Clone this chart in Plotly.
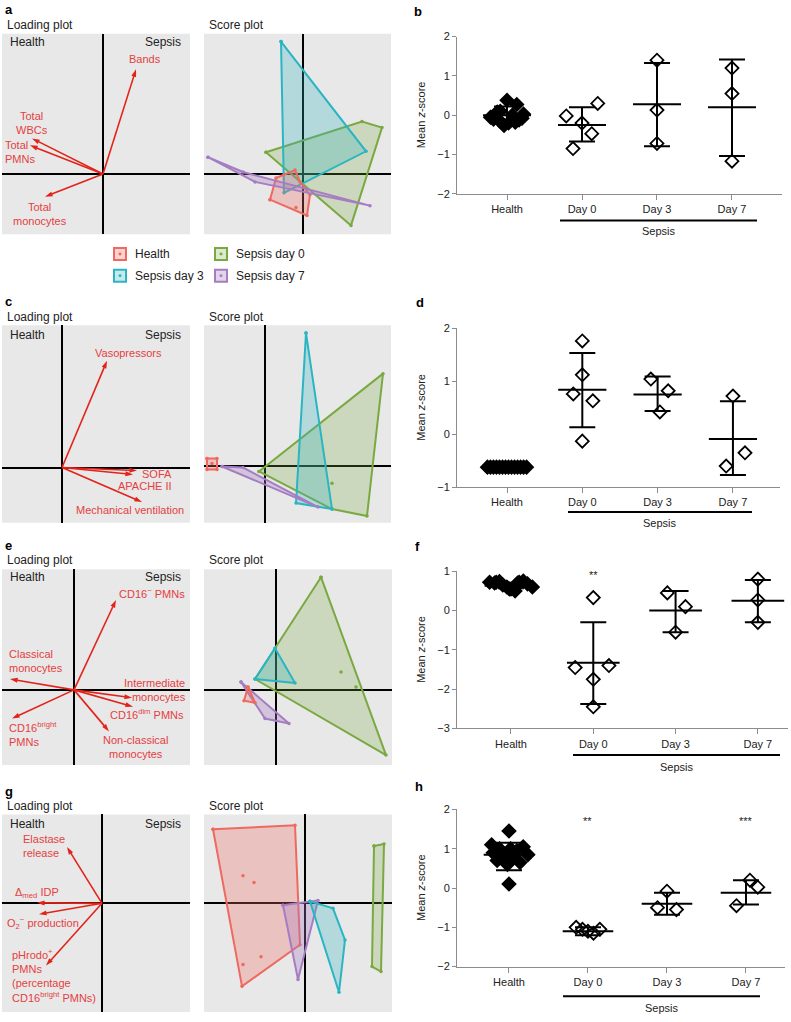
import plotly.graph_objects as go

W, H = 791, 1022
FONT = "Liberation Sans, Arial, Helvetica, sans-serif"
RED_TXT = "#E5403F"
RED_ARW = "#E2231A"
GREY_BOX = "#E8E8E8"
AXC = "#8C8C8C"

# ======================= DATA =======================
categories = ["Health", "Day 0", "Day 3", "Day 7"]
legend_names = ["Health", "Sepsis day 0", "Sepsis day 3", "Sepsis day 7"]

# ---- panel a : loadings ----
a_load_labels = ["Bands", "Total<br>WBCs", "Total<br>PMNs", "Total<br>monocytes"]
a_load_pc1 = [0.33, -0.71, -0.73, -0.58]
a_load_pc2 = [1.06, 0.36, 0.29, -0.23]
# ---- panel a : score hulls ----
a_day0_pc1 = [-0.37, 0.59, 0.79, 0.48]
a_day0_pc2 = [0.22, 0.53, 0.47, -0.52]
a_day3_pc1 = [-0.22, 0.63, -0.19]
a_day3_pc2 = [1.34, 0.23, -0.19]
a_day7_pc1 = [-0.95, -0.60, 0.67, -0.48]
a_day7_pc2 = [0.17, 0.02, -0.32, -0.08]
a_health_pc1 = [-0.33, -0.27, -0.08, -0.03, 0.07, 0.04]
a_health_pc2 = [-0.26, -0.04, 0.04, -0.08, -0.21, -0.42]
a_health_in_pc1 = [-0.07]
a_health_in_pc2 = [-0.34]

# ---- panel b : mean z-scores ----
b_health = [0.38, 0.27, 0.08, 0.03, -0.05, -0.10, -0.16, -0.20, -0.26, -0.18, -0.08, 0.00, -0.12, 0.10]
b_health_dx = [0.00, 0.13, -0.13, 0.22, -0.22, -0.18, -0.09, 0.02, -0.04, 0.11, 0.20, 0.07, 0.16, -0.09]
b_day0 = [-0.02, -0.20, -0.47, -0.85, 0.30]
b_day0_dx = [-0.21, 0.00, 0.13, -0.12, 0.21]
b_day3 = [1.40, 0.13, -0.72]
b_day3_dx = [0.0, 0.0, 0.0]
b_day7 = [1.20, 0.55, -1.17]
b_day7_dx = [0.0, 0.0, 0.0]
b_mean = [0.00, -0.25, 0.28, 0.20]
b_sd_hi = [0.22, 0.20, 1.33, 1.42]
b_sd_lo = [-0.22, -0.67, -0.79, -1.04]
b_stars = ["", "", "", ""]

# ---- panel c : loadings ----
c_load_pc1 = [0.45, 0.75, 0.71, 0.80]
c_load_pc2 = [1.08, -0.03, -0.07, -0.35]
c_load_labels = ["Vasopressors", "SOFA", "APACHE II", "Mechanical ventilation"]
# ---- panel c : score hulls ----
c_day0_pc1 = [-0.06, 1.18, 1.02, 0.67]
c_day0_pc2 = [-0.06, 0.93, -0.51, -0.44]
c_day0_in_pc1 = [0.67]
c_day0_in_pc2 = [-0.18]
c_day3_pc1 = [0.41, 0.31, 0.67]
c_day3_pc2 = [1.34, -0.38, -0.44]
c_day7_pc1 = [-0.43, -0.22, 0.53]
c_day7_pc2 = [-0.01, -0.02, -0.42]
c_health_pc1 = [-0.58, -0.48, -0.48, -0.58]
c_health_pc2 = [0.07, 0.07, -0.04, -0.04]
c_health_in_pc1 = [-0.53]
c_health_in_pc2 = [0.02]

# ---- panel d ----
d_health = [-0.62] * 14
d_health_dx = [-0.26, -0.22, -0.18, -0.14, -0.10, -0.06, -0.02, 0.02, 0.06, 0.10, 0.14, 0.18, 0.22, 0.26]
d_day0 = [1.76, 1.12, 0.76, 0.63, -0.13]
d_day0_dx = [0.0, 0.0, -0.12, 0.14, 0.0]
d_day3 = [1.04, 0.82, 0.42]
d_day3_dx = [-0.09, 0.14, 0.03]
d_day7 = [0.72, -0.35, -0.60]
d_day7_dx = [0.0, 0.16, -0.09]
d_mean = [-0.62, 0.84, 0.75, -0.09]
d_sd_hi = [-0.60, 1.53, 1.09, 0.62]
d_sd_lo = [-0.64, 0.13, 0.44, -0.77]
d_stars = ["", "**", "", ""]

# ---- panel e : loadings ----
e_load_pc1 = [0.42, -0.64, 0.58, 0.59, -0.62, 0.35]
e_load_pc2 = [0.91, 0.11, -0.08, -0.17, -0.29, -0.42]
# ---- panel e : score hulls ----
e_day0_pc1 = [0.45, -0.21, 1.10]
e_day0_pc2 = [1.14, 0.11, -0.66]
e_day0_in_pc1 = [0.65, 0.80]
e_day0_in_pc2 = [0.18, 0.03]
e_day3_pc1 = [-0.01, -0.21, 0.19]
e_day3_pc2 = [0.42, 0.11, 0.07]
e_day7_pc1 = [-0.35, 0.13, -0.11]
e_day7_pc2 = [0.08, -0.34, -0.29]
e_health_pc1 = [-0.28, -0.32, -0.21]
e_health_pc2 = [0.03, -0.11, -0.13]

# ---- panel f ----
f_health = [0.72, 0.70, 0.74, 0.65, 0.60, 0.55, 0.50, 0.72, 0.75, 0.68, 0.60, 0.55, 0.70, 0.72]
f_health_dx = [-0.26, -0.20, -0.14, -0.10, -0.05, 0.00, 0.05, 0.10, 0.15, 0.20, 0.26, -0.02, 0.08, -0.18]
f_day0 = [0.33, -1.45, -1.40, -1.75, -2.45]
f_day0_dx = [0.0, -0.22, 0.19, 0.0, 0.0]
f_day3 = [0.45, 0.10, -0.55]
f_day3_dx = [-0.10, 0.12, 0.0]
f_day7 = [0.80, 0.27, -0.30]
f_day7_dx = [0.0, 0.0, 0.0]
f_mean = [0.63, -1.33, 0.00, 0.25]
f_sd_hi = [0.69, -0.30, 0.50, 0.78]
f_sd_lo = [0.57, -2.38, -0.55, -0.30]
f_stars = ["", "**", "", ""]

# ---- panel g : loadings ----
g_load_pc1 = [-0.35, -0.65, -0.63, -0.56]
g_load_pc2 = [0.57, 0.005, -0.11, -0.63]
# ---- panel g : score hulls ----
g_health_pc1 = [-0.92, -0.10, -0.05, -0.63]
g_health_pc2 = [0.75, 0.79, -0.42, -0.84]
g_health_in_pc1 = [-0.62, -0.51, -0.62, -0.44]
g_health_in_pc2 = [0.28, 0.21, -0.62, -0.54]
g_day7_pc1 = [-0.22, 0.13, -0.07]
g_day7_pc2 = [-0.02, 0.03, -0.77]
g_day3_pc1 = [0.05, 0.28, 0.40, 0.34]
g_day3_pc2 = [0.02, -0.05, -0.37, -0.90]
g_day0_pc1 = [0.69, 0.79, 0.76, 0.67]
g_day0_pc2 = [0.58, 0.60, -0.69, -0.64]

# ---- panel h ----
h_health = [1.45, 1.10, 1.05, 1.00, 0.95, 0.90, 0.85, 0.80, 0.75, 0.70, 0.65, 0.60, 0.10, 1.00]
h_health_dx = [0.00, -0.22, 0.18, -0.12, 0.10, -0.20, 0.24, -0.05, 0.05, -0.15, 0.14, -0.02, 0.00, 0.02]
h_day0 = [-1.00, -1.05, -1.10, -1.15, -1.05]
h_day0_dx = [-0.15, -0.07, 0.00, 0.07, 0.15]
h_day3 = [-0.08, -0.50, -0.55]
h_day3_dx = [0.0, -0.12, 0.12]
h_day7 = [0.20, 0.02, -0.45]
h_day7_dx = [0.05, 0.15, -0.12]
h_mean = [0.85, -1.10, -0.40, -0.12]
h_sd_hi = [1.15, -1.00, -0.12, 0.20]
h_sd_lo = [0.45, -1.20, -0.68, -0.42]
h_stars = ["", "**", "", "***"]

# group colours (line, fill)
COL = {
    "health": ("#EE6A60", "rgba(238,106,96,0.30)"),
    "day0": ("#79A940", "rgba(121,169,64,0.25)"),
    "day3": ("#2BB5C2", "rgba(43,181,194,0.28)"),
    "day7": ("#A57DC2", "rgba(165,125,194,0.32)"),
}

# ======================= HELPERS =======================
fig = go.Figure()
layout = {}
shapes = []
annotations = []


def xn(n):
    return "x" if n == 1 else f"x{n}"


def yn(n):
    return "y" if n == 1 else f"y{n}"


def xkey(n):
    return "xaxis" if n == 1 else f"xaxis{n}"


def ykey(n):
    return "yaxis" if n == 1 else f"yaxis{n}"


def txt(text, px, py, size=12, color="#222", xanchor="left", yanchor="middle",
        align="left", bold=False):
    if bold:
        text = f"<b>{text}</b>"
    annotations.append(dict(text=text, x=px / W, y=1 - py / H, xref="paper", yref="paper",
                            xanchor=xanchor, yanchor=yanchor, align=align, showarrow=False,
                            font=dict(family=FONT, size=size, color=color)))


def pca_axes(n, box, origin):
    x0, y0, x1, y1 = box
    ox, oy = origin
    common = dict(showgrid=False, zeroline=True, zerolinecolor="black", zerolinewidth=2,
                  showticklabels=False, ticks="", showline=False, fixedrange=True)
    layout[xkey(n)] = dict(domain=[x0 / W, x1 / W], range=[(x0 - ox) / 100, (x1 - ox) / 100],
                           anchor=yn(n), **common)
    layout[ykey(n)] = dict(domain=[1 - y1 / H, 1 - y0 / H], range=[(oy - y1) / 100, (oy - y0) / 100],
                           anchor=xn(n), **common)
    shapes.append(dict(type="rect", xref=f"{xn(n)} domain", yref=f"{yn(n)} domain",
                       x0=0, x1=1, y0=0, y1=1, fillcolor=GREY_BOX, line=dict(width=0), layer="below"))


def arrows(n, pc1, pc2):
    for x, y in zip(pc1, pc2):
        fig.add_trace(go.Scatter(x=[0, x], y=[0, y], xaxis=xn(n), yaxis=yn(n),
                                 mode="lines+markers", line=dict(color=RED_ARW, width=1.6),
                                 marker=dict(symbol="arrow", size=8, angleref="previous",
                                             color=["rgba(0,0,0,0)", RED_ARW]),
                                 hoverinfo="skip"))


def hull(n, pc1, pc2, key, inner=None):
    line_c, fill_c = COL[key]
    fig.add_trace(go.Scatter(x=list(pc1) + [pc1[0]], y=list(pc2) + [pc2[0]], xaxis=xn(n), yaxis=yn(n),
                             mode="lines+markers", fill="toself", fillcolor=fill_c,
                             line=dict(color=line_c, width=2), marker=dict(size=3.5, color=line_c),
                             hoverinfo="skip"))
    if inner:
        fig.add_trace(go.Scatter(x=inner[0], y=inner[1], xaxis=xn(n), yaxis=yn(n), mode="markers",
                                 marker=dict(size=3.5, color=line_c), hoverinfo="skip"))


def dot_axes(n, xpx, ypx, xr, yr):
    layout[xkey(n)] = dict(domain=[xpx[0] / W, xpx[1] / W], range=xr, anchor=yn(n),
                           tickvals=[0, 1, 2, 3], ticktext=categories, showline=True,
                           linecolor=AXC, linewidth=1, ticks="outside", ticklen=5, tickcolor=AXC,
                           tickfont=dict(family=FONT, size=11, color="#222"),
                           showgrid=False, zeroline=False, fixedrange=True)
    layout[ykey(n)] = dict(domain=[1 - ypx[1] / H, 1 - ypx[0] / H], range=yr, anchor=xn(n),
                           dtick=1, tick0=0, showline=True, linecolor=AXC, linewidth=1,
                           ticks="outside", ticklen=4, tickcolor=AXC,
                           tickfont=dict(family=FONT, size=11, color="#222"),
                           showgrid=False, zeroline=False, fixedrange=True)
    yc = (ypx[0] + ypx[1]) / 2
    txt("Mean <i>z</i>-score", xpx[0] - 36, yc, size=11, xanchor="center")
    annotations[-1]["textangle"] = -90


def dot_panel(n, groups, dxs, mean, hi, lo, stars, star_y):
    for i, (ys, dx) in enumerate(zip(groups, dxs)):
        xs = [i + d for d in dx]
        sym = "diamond" if i == 0 else "diamond-open"
        fig.add_trace(go.Scatter(x=xs, y=ys, xaxis=xn(n), yaxis=yn(n), mode="markers",
                                 marker=dict(symbol=sym, size=10, color="black",
                                             line=dict(width=1.8, color="black")),
                                 hoverinfo="skip"))
    fig.add_trace(go.Scatter(
        x=[0, 1, 2, 3], y=mean, xaxis=xn(n), yaxis=yn(n), mode="markers",
        marker=dict(size=1, color="rgba(0,0,0,0)"),
        error_x=dict(type="constant", value=0.32, thickness=2, width=0, color="black"),
        error_y=dict(type="data", array=[h - m for h, m in zip(hi, mean)],
                     arrayminus=[m - l for m, l in zip(mean, lo)],
                     thickness=2, width=13, color="black"),
        hoverinfo="skip"))
    for i, s in enumerate(stars):
        if s:
            annotations.append(dict(text=s, x=i, y=star_y, xref=xn(n), yref=yn(n),
                                    showarrow=False, font=dict(family=FONT, size=11, color="#222")))


def sepsis_bar(x0, x1, y, yt):
    shapes.append(dict(type="line", xref="paper", yref="paper", x0=x0 / W, x1=x1 / W,
                       y0=1 - y / H, y1=1 - y / H, line=dict(color="black", width=2)))
    txt("Sepsis", (x0 + x1) / 2, yt, size=11, xanchor="center")


def pca_titles(letter, y_letter, y_title, y_hs, box_l, box_s):
    txt(letter, 3, y_letter, size=13, bold=True, color="black")
    txt("Loading plot", 5, y_title, size=12)
    txt("Score plot", box_s[0] + 3, y_title, size=12)
    txt("Health", box_l[0] + 6, y_hs, size=12)
    txt("Sepsis", box_l[2] - 7, y_hs, size=12, xanchor="right")


# ======================= PANEL a / b =======================
BOX_A_L, BOX_A_S = (2, 28, 190, 231), (204, 28, 391, 231)
pca_axes(1, BOX_A_L, (103, 170))
pca_axes(2, BOX_A_S, (303, 170))
arrows(1, a_load_pc1, a_load_pc2)
pca_titles("a", 4, 19, 36, BOX_A_L, BOX_A_S)
txt(a_load_labels[0], 145, 54, size=11, color=RED_TXT, xanchor="center")
txt(a_load_labels[1], 32, 118, size=11, color=RED_TXT, xanchor="center", align="center")
txt(a_load_labels[2], 3, 148, size=11, color=RED_TXT)
txt(a_load_labels[3], 40, 210, size=11, color=RED_TXT, xanchor="center", align="center")
hull(2, a_day0_pc1, a_day0_pc2, "day0")
hull(2, a_day3_pc1, a_day3_pc2, "day3")
hull(2, a_health_pc1, a_health_pc2, "health", (a_health_in_pc1, a_health_in_pc2))
hull(2, a_day7_pc1, a_day7_pc2, "day7")

dot_axes(3, (457, 782), (31, 190), [-0.667, 3.667], [-2, 2])
dot_panel(3, [b_health, b_day0, b_day3, b_day7], [b_health_dx, b_day0_dx, b_day3_dx, b_day7_dx],
          b_mean, b_sd_hi, b_sd_lo, b_stars, 2.0)
sepsis_bar(560, 757, 217, 228)
txt("b", 412, 6, size=13, bold=True, color="black")

# legend
leg_keys = ["health", "day0", "day3", "day7"]
leg_pos = [(120, 251), (221, 251), (120, 273), (221, 273)]
for key, name, (lx, ly) in zip(leg_keys, legend_names, leg_pos):
    lc, fc = COL[key]
    shapes.append(dict(type="rect", xref="paper", yref="paper", x0=(lx - 6) / W, x1=(lx + 6) / W,
                       y0=1 - (ly + 6) / H, y1=1 - (ly - 6) / H, fillcolor=fc,
                       line=dict(color=lc, width=2)))
    shapes.append(dict(type="circle", xref="paper", yref="paper", x0=(lx - 1.5) / W, x1=(lx + 1.5) / W,
                       y0=1 - (ly + 1.5) / H, y1=1 - (ly - 1.5) / H, fillcolor=lc,
                       line=dict(width=0)))
    txt(name, lx + 13, ly, size=12)

# ======================= PANEL c / d =======================
BOX_C_L, BOX_C_S = (2, 323, 190, 523), (204, 323, 391, 523)
pca_axes(4, BOX_C_L, (62, 467))
pca_axes(5, BOX_C_S, (265, 465))
arrows(4, c_load_pc1, c_load_pc2)
pca_titles("c", 299, 315, 333, BOX_C_L, BOX_C_S)
txt(c_load_labels[0], 128, 351, size=11, color=RED_TXT, xanchor="center")
txt(c_load_labels[1], 157, 474, size=11, color=RED_TXT, xanchor="center")
txt(c_load_labels[2], 145, 486, size=11, color=RED_TXT, xanchor="center")
txt(c_load_labels[3], 130, 510, size=11, color=RED_TXT, xanchor="center")
hull(5, c_day0_pc1, c_day0_pc2, "day0", (c_day0_in_pc1, c_day0_in_pc2))
hull(5, c_day3_pc1, c_day3_pc2, "day3")
hull(5, c_day7_pc1, c_day7_pc2, "day7")
hull(5, c_health_pc1, c_health_pc2, "health", (c_health_in_pc1, c_health_in_pc2))

dot_axes(6, (457, 780), (326, 487), [-0.664, 3.625], [-1, 2])
dot_panel(6, [d_health, d_day0, d_day3, d_day7], [d_health_dx, d_day0_dx, d_day3_dx, d_day7_dx],
          d_mean, d_sd_hi, d_sd_lo, d_stars, 2.05)
sepsis_bar(568, 752, 512, 523)
txt("d", 414, 300, size=13, bold=True, color="black")

# ======================= PANEL e / f =======================
BOX_E_L, BOX_E_S = (2, 570, 190, 768), (204, 570, 392, 768)
pca_axes(7, BOX_E_L, (74, 692))
pca_axes(8, BOX_E_S, (276, 692))
arrows(7, e_load_pc1, e_load_pc2)
pca_titles("e", 546, 561, 578, BOX_E_L, BOX_E_S)
txt("CD16<sup>−</sup> PMNs", 152, 594, size=11, color=RED_TXT, xanchor="center")
txt("Classical<br>monocytes", 7, 663, size=11, color=RED_TXT)
txt("Intermediate<br>monocytes", 188, 692, size=11, color=RED_TXT, xanchor="right", align="right")
txt("CD16<sup>dim</sup> PMNs", 147, 716, size=11, color=RED_TXT, xanchor="center")
txt("CD16<sup>bright</sup><br>PMNs", 7, 737, size=11, color=RED_TXT)
txt("Non-classical<br>monocytes", 135, 750, size=11, color=RED_TXT, xanchor="center", align="center")
hull(8, e_day0_pc1, e_day0_pc2, "day0", (e_day0_in_pc1, e_day0_in_pc2))
hull(8, e_day3_pc1, e_day3_pc2, "day3")
hull(8, e_day7_pc1, e_day7_pc2, "day7")
hull(8, e_health_pc1, e_health_pc2, "health")

dot_axes(9, (457, 788), (572, 731), [-0.656, 3.366], [-3, 1])
dot_panel(9, [f_health, f_day0, f_day3, f_day7], [f_health_dx, f_day0_dx, f_day3_dx, f_day7_dx],
          f_mean, f_sd_hi, f_sd_lo, f_stars, 0.9)
sepsis_bar(573, 780, 758, 770)
txt("f", 413, 547, size=13, bold=True, color="black")

# ======================= PANEL g / h =======================
BOX_G_L, BOX_G_S = (2, 818, 190, 1018), (204, 818, 392, 1018)
pca_axes(10, BOX_G_L, (102, 908))
pca_axes(11, BOX_G_S, (305, 908))
arrows(10, g_load_pc1, g_load_pc2)
pca_titles("g", 795, 809, 828, BOX_G_L, BOX_G_S)
txt("Elastase<br>release", 21, 850, size=11, color=RED_TXT)
txt("Δ<sub>med</sub> IDP", 13, 898, size=11, color=RED_TXT)
txt("O<sub>2</sub><sup>−</sup> production", 5, 928, size=11, color=RED_TXT)
txt("pHrodo<sup>+</sup><br>PMNs<br>(percentage<br>CD16<sup>bright</sup> PMNs)", 10, 981, size=11,
    color=RED_TXT)
hull(11, g_health_pc1, g_health_pc2, "health", (g_health_in_pc1, g_health_in_pc2))
hull(11, g_day7_pc1, g_day7_pc2, "day7")
hull(11, g_day3_pc1, g_day3_pc2, "day3")
hull(11, g_day0_pc1, g_day0_pc2, "day0")

dot_axes(12, (457, 785), (813, 972), [-0.658, 3.494], [-2, 2])
dot_panel(12, [h_health, h_day0, h_day3, h_day7], [h_health_dx, h_day0_dx, h_day3_dx, h_day7_dx],
          h_mean, h_sd_hi, h_sd_lo, h_stars, 1.7)
sepsis_bar(563, 760, 1002, 1014)
txt("h", 413, 790, size=13, bold=True, color="black")

# ======================= LAYOUT =======================
fig.update_layout(width=W, height=H, margin=dict(l=0, r=0, t=0, b=0),
                  paper_bgcolor="white", plot_bgcolor="white", showlegend=False,
                  font=dict(family=FONT, size=11, color="#222"),
                  shapes=shapes, annotations=annotations, **layout)

fig.write_html("out.html", config={"displayModeBar": False},
               post_script="document.body.style.margin='0px';")
